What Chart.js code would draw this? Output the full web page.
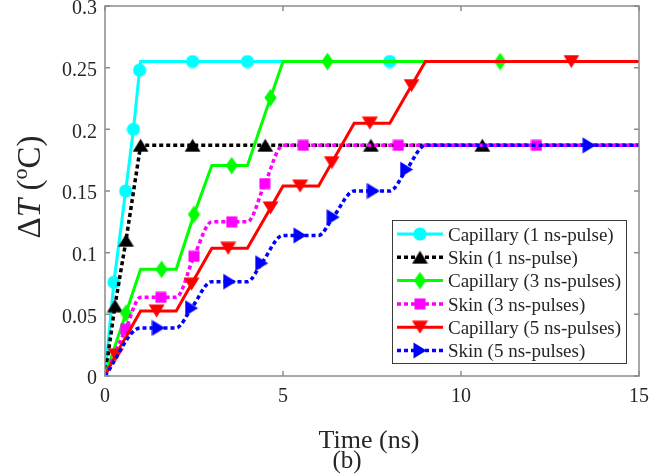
<!DOCTYPE html>
<html><head><meta charset="utf-8">
<script src="https://cdn.jsdelivr.net/npm/chart.js@4.4.1/dist/chart.umd.min.js"></script>
<style>html,body{margin:0;padding:0;background:#fff}</style>
</head><body>
<canvas id="c" width="664" height="476" style="display:block;width:664px;height:476px"></canvas>
<script>
// ---------- data ----------
const seriesLabels = ['Capillary (1 ns-pulse)','Skin (1 ns-pulse)','Capillary (3 ns-pulses)','Skin (3 ns-pulses)','Capillary (5 ns-pulses)','Skin (5 ns-pulses)'];
const xTickLabels = ['0','5','10','15'];
const yTickLabels = ['0','0.05','0.1','0.15','0.2','0.25','0.3'];

const cap1X = [0, 0.25, 0.58, 0.8, 0.97, 1.0, 2.46, 4.0, 8.0, 15];
const cap1Y = [0, 0.076, 0.15, 0.2, 0.248, 0.255, 0.255, 0.255, 0.255, 0.255];
const cap1Marks = [1,2,3,4,6,7,8];

const skin1X = [0, 0.28, 0.59, 1.0, 2.46, 4.5, 7.47, 10.6, 15];
const skin1Y = [0, 0.057, 0.11, 0.187, 0.187, 0.187, 0.187, 0.187, 0.187];
const skin1Marks = [1,2,3,4,5,6,7];

const cap3X = [0, 0.59, 1, 1.59, 2, 2.5, 3, 3.56, 4, 4.65, 5, 6.25, 11.1, 15];
const cap3Y = [0, 0.051, 0.0865, 0.0865, 0.0865, 0.131, 0.1706, 0.1706, 0.1706, 0.2257, 0.255, 0.255, 0.255, 0.255];
const cap3Marks = [1,3,5,7,9,11,12];

const skin3X = [0, 0.58, 1, 1.57, 2, 2.5, 3, 3.56, 4, 4.49, 5, 5.57, 8.24, 12.12, 15];
const skin3Y = [0, 0.038, 0.0638, 0.0638, 0.0638, 0.097, 0.125, 0.125, 0.125, 0.156, 0.187, 0.187, 0.187, 0.187, 0.187];
const skin3Marks = [1,3,5,7,9,11,12,13];

const cap5X = [0, 0.3, 1, 1.45, 2, 2.43, 3, 3.46, 4, 4.65, 5, 5.48, 6, 6.37, 7, 7.44, 8, 8.61, 9, 13.1, 15];
const cap5Y = [0, 0.017, 0.0527, 0.0527, 0.0527, 0.0745, 0.1035, 0.1035, 0.1035, 0.1363, 0.154, 0.154, 0.154, 0.173, 0.205, 0.205, 0.205, 0.2355, 0.255, 0.255, 0.255];
const cap5Marks = [1,3,5,7,9,11,13,15,17,19];

const skin5X = [0, 1, 1.5, 2, 2.43, 3, 3.5, 4, 4.4, 5, 5.48, 6, 6.41, 7, 7.54, 8, 8.47, 9, 13.6, 15];
const skin5Y = [0, 0.039, 0.039, 0.039, 0.055, 0.0765, 0.0765, 0.0765, 0.0915, 0.114, 0.114, 0.114, 0.1288, 0.150, 0.150, 0.150, 0.1674, 0.187, 0.187, 0.187];
const skin5Marks = [2,4,6,8,10,12,14,16,18];

// ---------- styling ----------
const FONT = '"Liberation Serif", "Times New Roman", serif';
const TXT = '#262626';

function makeMarker(kind, color){
  const dims = {circle:[14,14], up:[17,14], down:[17,14], right:[14,17], diamond:[13,18], square:[12,12]}[kind];
  const c = document.createElement('canvas');
  c.width = dims[0]; c.height = dims[1];
  const g = c.getContext('2d');
  g.fillStyle = color;
  const w = c.width, h = c.height;
  g.beginPath();
  if (kind==='circle'){ g.arc(w/2,h/2,6.6,0,Math.PI*2); }
  else if (kind==='up'){ g.moveTo(w/2,0.5); g.lineTo(w-0.5,h-0.5); g.lineTo(0.5,h-0.5); }
  else if (kind==='down'){ g.moveTo(0.5,0.5); g.lineTo(w-0.5,0.5); g.lineTo(w/2,h-0.5); }
  else if (kind==='right'){ g.moveTo(0.5,0.5); g.lineTo(w-0.5,h/2); g.lineTo(0.5,h-0.5); }
  else if (kind==='diamond'){ g.moveTo(w/2,0.3); g.lineTo(w-0.3,h/2); g.lineTo(w/2,h-0.3); g.lineTo(0.3,h/2); }
  else if (kind==='square'){ g.rect(0.5,0.5,w-1,h-1); }
  g.closePath(); g.fill();
  return c;
}

function ds(i, xs, ys, marks, color, dotted, marker, smooth){
  return {
    label: seriesLabels[i],
    data: xs.map((x,k)=>({x:x, y:ys[k]})),
    borderColor: color, backgroundColor: color,
    borderWidth: dotted ? 3.5 : 3,
    borderDash: dotted ? [4,3] : [],
    pointStyle: makeMarker(marker, color),
    pointRadius: c => marks.includes(c.dataIndex) ? 6 : 0,
    pointHoverRadius: 0, pointBorderWidth: 0,
    tension: 0,
    cubicInterpolationMode: smooth ? 'monotone' : 'default',
    fill: false,
    order: 6 - i
  };
}

const datasets = [
  ds(0, cap1X, cap1Y, cap1Marks, '#00FFFF', false, 'circle', false),
  ds(1, skin1X, skin1Y, skin1Marks, '#000000', true, 'up', false),
  ds(2, cap3X, cap3Y, cap3Marks, '#00FF00', false, 'diamond', false),
  ds(3, skin3X, skin3Y, skin3Marks, '#FF00FF', true, 'square', true),
  ds(4, cap5X, cap5Y, cap5Marks, '#FF0000', false, 'down', false),
  ds(5, skin5X, skin5Y, skin5Marks, '#0000FF', true, 'right', true)
];

const framePlugin = {
  id: 'frame',
  afterDatasetsDraw(chart){
    const {ctx, chartArea:a, scales:{x, y}} = chart;
    ctx.save();
    ctx.strokeStyle = '#8c8c8c'; ctx.lineWidth = 1.5; ctx.setLineDash([]);
    ctx.strokeRect(a.left, a.top, a.right-a.left, a.bottom-a.top);
    ctx.beginPath();
    const tl = 5;
    x.ticks.forEach(t=>{ const px = x.getPixelForValue(t.value);
      ctx.moveTo(px, a.bottom); ctx.lineTo(px, a.bottom-tl);
      ctx.moveTo(px, a.top); ctx.lineTo(px, a.top+tl); });
    y.ticks.forEach(t=>{ const py = y.getPixelForValue(t.value);
      ctx.moveTo(a.left, py); ctx.lineTo(a.left+tl, py);
      ctx.moveTo(a.right, py); ctx.lineTo(a.right-tl, py); });
    ctx.stroke();
    ctx.restore();
  },
  afterDraw(chart){
    const ctx = chart.ctx;
    ctx.save();
    // x title
    ctx.fillStyle = TXT;
    ctx.textAlign = 'center'; ctx.textBaseline = 'alphabetic';
    ctx.font = '26px ' + FONT;
    ctx.fillText('Time (ns)', 369, 448);
    ctx.font = '25px ' + FONT;
    ctx.fillText('(b)', 347, 468);
    // y title (rotated) : ΔT (°C) with superscript o
    const parts = [
      {t:'\u0394', f:'33px '+FONT, dy:0},
      {t:'T', f:'italic 33px '+FONT, dy:0},
      {t:' (', f:'33px '+FONT, dy:0},
      {t:'o', f:'22px '+FONT, dy:-13},
      {t:'C)', f:'33px '+FONT, dy:0}
    ];
    let total = 0;
    parts.forEach(p=>{ ctx.font = p.f; p.w = ctx.measureText(p.t).width; total += p.w; });
    ctx.translate(40, 187);
    ctx.rotate(-Math.PI/2);
    ctx.textAlign = 'left';
    let cx = -total/2;
    parts.forEach(p=>{ ctx.font = p.f; ctx.fillText(p.t, cx, p.dy); cx += p.w; });
    ctx.restore();

    // legend
    ctx.save();
    const L = 392, T = 220, R = 627, B = 364;
    ctx.fillStyle = '#ffffff';
    ctx.fillRect(L, T, R-L, B-T);
    ctx.strokeStyle = '#3a3a3a'; ctx.lineWidth = 1;
    ctx.strokeRect(L+0.5, T+0.5, R-L-1, B-T-1);
    chart.data.datasets.forEach((d, i)=>{
      const base = 240.7 + i*23.3;
      const cy = base - 6.7;
      ctx.beginPath();
      ctx.strokeStyle = d.borderColor; ctx.lineWidth = d.borderWidth;
      ctx.setLineDash(d.borderDash);
      ctx.moveTo(397, cy); ctx.lineTo(443, cy); ctx.stroke();
      ctx.setLineDash([]);
      const m = d.pointStyle;
      ctx.drawImage(m, 420 - m.width/2, cy - m.height/2);
      ctx.fillStyle = TXT; ctx.font = '19px ' + FONT;
      ctx.textAlign = 'left'; ctx.textBaseline = 'alphabetic';
      ctx.fillText(d.label, 448, base);
    });
    ctx.restore();
  }
};

new Chart(document.getElementById('c'), {
  type: 'line',
  data: { datasets },
  options: {
    responsive: false, animation: false, devicePixelRatio: 1, events: [],
    layout: { padding: { left: 0, right: 25, top: 6, bottom: 0 } },
    plugins: { legend: { display: false }, tooltip: { enabled: false }, title: { display: false } },
    scales: {
      x: {
        type: 'linear', min: 0, max: 15,
        ticks: { stepSize: 5, maxRotation: 0, padding: 9, color: TXT,
                 font: { family: FONT, size: 20 },
                 callback: (v, i) => xTickLabels[i] },
        grid: { display: false, drawTicks: false }, border: { display: false },
        afterFit: s => { s.height = 100; s.paddingLeft = 0; s.paddingRight = 0; }
      },
      y: {
        type: 'linear', min: 0, max: 0.3,
        ticks: { stepSize: 0.05, padding: 8, labelOffset: 3, color: TXT,
                 font: { family: FONT, size: 20 },
                 callback: (v, i) => yTickLabels[i] },
        grid: { display: false, drawTicks: false }, border: { display: false },
        afterFit: s => { s.width = 105; s.paddingTop = 0; s.paddingBottom = 0; }
      }
    }
  },
  plugins: [framePlugin]
});
</script>
</body></html>
